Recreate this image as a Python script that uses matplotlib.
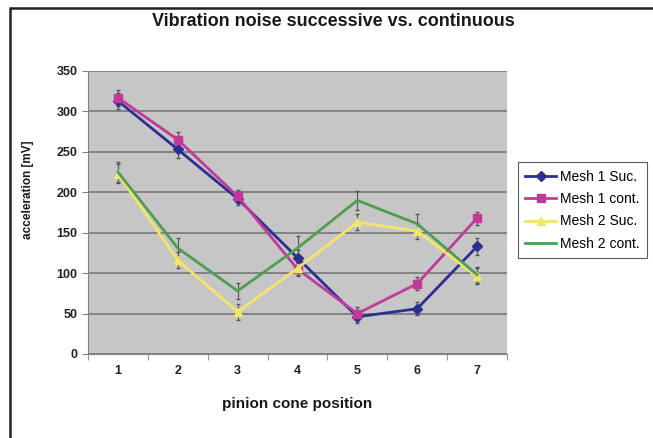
import matplotlib.pyplot as plt
import numpy as np
from matplotlib.patches import Rectangle

plt.rcParams['font.family'] = ['Liberation Sans', 'DejaVu Sans']

# data
positions = [1, 2, 3, 4, 5, 6, 7]
mesh1_suc = [313, 253, 192, 119, 46, 56, 133]
mesh1_cont = [317, 265, 195, 105, 50, 87, 168]
mesh2_suc = [223, 116, 52, 106, 163, 152, 96]
mesh2_cont = [225, 131, 78, 131, 190, 161, 98]
mesh1_suc_err = [10, 10, 8, 10, 8, 8, 10]
mesh1_cont_err = [10, 10, 8, 8, 8, 8, 8]
mesh2_suc_err = [12, 10, 10, 8, 10, 10, 10]
mesh2_cont_err = [12, 12, 10, 15, 12, 12, 10]

fig = plt.figure(figsize=(6.53, 4.38), dpi=100)
ax = fig.add_axes([0.1348, 0.1918, 0.6416, 0.6461])
ax.set_facecolor('#c6c6c6')

x = np.array(positions)
series = [
    (mesh1_suc, mesh1_suc_err, '#2b2f8f', 'D', 5, 'Mesh 1 Suc.'),
    (mesh1_cont, mesh1_cont_err, '#c2399c', 's', 6, 'Mesh 1 cont.'),
    (mesh2_suc, mesh2_suc_err, '#f3e56a', '^', 6, 'Mesh 2 Suc.'),
    (mesh2_cont, mesh2_cont_err, '#4e9e52', 'None', 5, 'Mesh 2 cont.'),
]
for vals, err, col, mk, ms, lab in series:
    ax.errorbar(x, vals, yerr=err, fmt='none', ecolor='#555555',
                elinewidth=0.8, capsize=1.5, zorder=2)
    ax.plot(x, vals, color=col, marker=mk, markersize=ms, lw=2,
            label=lab, zorder=3)

ax.set_xlim(0.5, 7.5)
ax.set_ylim(0, 350)
ax.set_yticks(np.arange(0, 351, 50))
ax.set_xticks(positions)
ax.set_xticks(np.arange(0.5, 7.6, 1), minor=True)
ax.tick_params(axis='x', which='major', length=0, pad=8)
ax.tick_params(axis='x', which='minor', length=4, color='#808080', direction='out')
ax.tick_params(axis='y', length=4, color='#808080', direction='out')
ax.grid(axis='y', color='#777777', lw=1.2)
ax.set_axisbelow(True)
for s in ['top', 'right']:
    ax.spines[s].set_visible(False)
for s in ['left', 'bottom']:
    ax.spines[s].set_color('#808080')
for lbl in ax.get_xticklabels() + ax.get_yticklabels():
    lbl.set_fontsize(9)
    lbl.set_fontweight('bold')
    lbl.set_color('#222222')

ax.set_xlabel('pinion cone position', fontsize=11, fontweight='bold', labelpad=14,
              color='#1a1a1a')
ax.set_ylabel('acceleration [mV]', fontsize=8.5, fontweight='bold',
              color='#1a1a1a')
ax.yaxis.set_label_coords(-0.128, 0.58)
fig.text(0.51, 0.95, 'Vibration noise successive vs. continuous',
         ha='center', va='center', fontsize=13, fontweight='bold', color='#1a1a1a')

leg = fig.legend(loc='upper left', bbox_to_anchor=(0.793, 0.63), fontsize=10,
                 frameon=True, fancybox=False, edgecolor='#333333',
                 borderpad=0.55, labelspacing=0.6, handlelength=2.2,
                 handletextpad=0.3, borderaxespad=0)
leg.get_frame().set_linewidth(0.8)

# outer chart border
fig.patches.append(Rectangle((10 / 653, -0.1), 1.2, 1 - 8 / 438 + 0.1,
                             transform=fig.transFigure, fill=False,
                             edgecolor='#222222', lw=1.8))

fig.savefig('out.png', dpi=100)
